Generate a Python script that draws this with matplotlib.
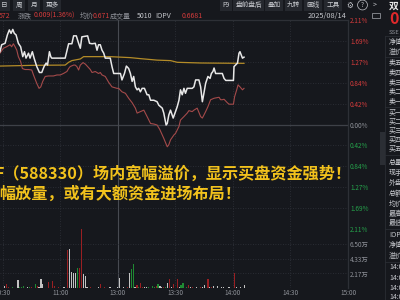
import matplotlib
matplotlib.use('Agg')
import matplotlib.pyplot as plt
from matplotlib.patches import Rectangle

plt.rcParams['font.family'] = ['Noto Sans CJK SC', 'DejaVu Sans']

# ---------------- data (minutes since 9:30 trading clock, % change) ----------------
white_t = [58.6, 59.5, 61.3, 62.5, 63.5, 64.4, 65.3, 66.1, 67.0, 68.2,
           69.4, 70.5, 71.4, 72.2, 73.5, 74.3, 75.5, 76.4, 77.8, 79.2,
           80.4, 81.6, 82.7, 83.4, 84.4, 85.1, 85.6, 92.6, 94.4, 96.1,
           97.0, 98.4, 99.6, 100.5, 101.3, 104.3, 105.3, 106.6, 108.3, 109.2,
           110.0, 110.9, 111.8, 112.7, 113.5, 116.1, 117.0, 117.9, 121.4, 122.2,
           123.5, 124.5, 125.7, 126.6, 127.5, 128.3, 129.2, 130.1, 130.9, 131.8,
           132.7, 133.9, 135.3, 136.2, 137.1, 138.8, 140.5, 141.4, 142.3, 143.2,
           144.0, 145.2, 145.8, 146.6, 147.5, 148.9, 150.1, 151.0, 151.9, 152.7,
           153.6, 154.5, 155.3, 156.2, 158.8, 159.7, 160.6, 162.3, 163.2, 164.1,
           164.9, 165.8, 167.0, 168.1, 168.8, 169.6, 170.2, 171.0, 174.5, 175.4,
           176.3, 180.3, 180.6, 182.4, 183.2, 183.7, 185.0, 185.8]
white_p = [1.47, 1.61, 1.64, 1.81, 1.91, 1.84, 1.92, 1.84, 1.81, 1.64,
           1.57, 1.37, 1.47, 1.34, 1.44, 1.34, 1.47, 1.34, 1.17, 1.05,
           1.05, 1.17, 1.24, 1.20, 1.47, 1.37, 1.34, 1.34, 1.63, 1.63,
           1.79, 1.79, 1.64, 1.54, 1.77, 1.79, 1.64, 1.63, 1.64, 1.50,
           1.61, 1.61, 1.50, 1.44, 1.34, 1.34, 1.17, 1.03, 1.03, 0.90,
           1.03, 1.18, 1.13, 1.03, 0.87, 0.97, 0.76, 0.70, 0.73, 0.66,
           0.73, 0.73, 0.60, 0.60, 0.49, 0.49, 0.46, 0.39, 0.36, 0.33,
           0.23, -0.01, 0.02, 0.19, 0.29, 0.13, 0.26, 0.36, 0.49, 0.70,
           0.60, 0.73, 0.63, 0.73, 0.73, 0.76, 0.90, 0.90, 0.76, 0.46,
           0.63, 0.83, 0.97, 0.93, 1.03, 1.07, 1.14, 1.03, 1.03, 0.93,
           0.89, 0.89, 1.17, 1.24, 1.44, 1.47, 1.34, 1.36]

avg_t = [58.6, 76.1, 92.6, 94.4, 96.1, 100.5, 102.2, 116.1, 126.6, 131.8,
         140.5, 147.5, 151.0, 163.2, 185.8]
avg_p = [1.18, 1.195, 1.20, 1.256, 1.29, 1.323, 1.37, 1.37, 1.35, 1.33,
         1.30, 1.29, 1.256, 1.242, 1.235]

red_t = [58.6, 60.4, 62.1, 63.9, 64.7, 65.6, 66.5, 67.4, 68.2, 69.4,
         70.3, 71.7, 73.5, 75.2, 76.1, 77.8, 79.0, 79.9, 80.9, 82.2,
         83.9, 86.5, 88.3, 90.0, 91.7, 93.5, 94.4, 95.2, 97.0, 97.8,
         98.7, 99.6, 100.5, 101.9, 103.1, 104.3, 105.7, 106.6, 108.3, 110.0,
         110.9, 111.8, 113.5, 115.3, 117.0, 119.6, 120.5, 122.2, 124.0, 125.7,
         127.5, 129.2, 130.1, 131.8, 133.6, 135.3, 137.1, 138.8, 140.5, 141.9,
         144.0, 145.8, 146.6, 147.5, 149.3, 150.1, 151.9, 152.7, 154.5, 156.2,
         157.1, 158.8, 159.7, 161.4, 163.2, 164.1, 164.9, 165.8, 167.0, 168.4,
         170.2, 172.8, 173.6, 174.5, 175.4, 177.1, 178.0, 180.3, 180.9, 182.0,
         182.7, 183.7, 185.0, 185.8]
red_p = [1.44, 1.54, 1.57, 1.61, 1.57, 1.63, 1.57, 1.50, 1.37, 1.27,
         1.13, 1.11, 1.11, 1.10, 1.00, 0.83, 0.73, 0.76, 0.87, 0.97,
         0.98, 0.98, 1.00, 1.00, 1.03, 1.07, 1.13, 1.17, 1.20, 1.20,
         1.17, 1.10, 1.20, 1.25, 1.22, 1.17, 1.11, 1.05, 1.07, 1.03,
         1.05, 1.00, 0.97, 0.85, 0.76, 0.73, 0.73, 0.66, 0.63, 0.53,
         0.44, 0.33, 0.23, 0.26, 0.29, 0.16, 0.02, 0.01, -0.01, -0.10,
         -0.28, -0.45, -0.41, -0.31, -0.21, -0.18, -0.04, 0.09, 0.16, 0.23,
         0.28, 0.26, 0.29, 0.33, 0.16, 0.13, 0.19, 0.26, 0.36, 0.50,
         0.53, 0.55, 0.50, 0.50, 0.51, 0.44, 0.41, 0.41, 0.56, 0.70,
         0.80, 0.76, 0.70, 0.73]

# volume (万) per minute, direction u=up(red) d=down(green) f=flat(grey)
vol_t = [61, 62, 63, 64, 65, 66, 68, 69, 70, 71,
         72, 73, 74, 75, 76, 77, 78, 79, 80, 81,
         82, 83, 84, 85, 86, 87, 88, 89, 90, 91,
         92, 93, 94, 95, 96, 97, 98, 99, 100, 101,
         102, 103, 104, 105, 106, 107, 108, 109, 110, 111,
         112, 113, 114, 115, 116, 117, 118, 119, 120, 121,
         122, 123, 124, 125, 126, 127, 128, 129, 130, 131,
         132, 133, 134, 135, 136, 137, 138, 139, 140, 141,
         142, 143, 144, 145, 146, 147, 148, 149, 150, 151,
         152, 153, 154, 155, 156, 157, 158, 159, 160, 161,
         162, 163, 164, 165, 166, 167, 168, 169, 170, 171,
         172, 173, 174, 175, 176, 177, 178, 179, 180, 181,
         182, 183, 184, 185, 186]
vol_v = [0.34, 0.58, 0.12, 0.10, 0.12, 0.10, 1.21, 0.24, 0.12, 0.34,
         0.10, 0.24, 0.24, 0.12, 0.10, 0.58, 0.34, 0.12, 1.30, 0.58,
         0.10, 0.10, 0.96, 0.10, 1.06, 0.34, 0.10, 0.12, 0.10, 0.10,
         0.12, 0.10, 5.55, 5.79, 2.41, 2.27, 2.17, 3.04, 2.90, 9.00,
         2.03, 1.78, 0.12, 0.10, 0.12, 0.10, 0.10, 0.10, 0.12, 0.58,
         0.10, 0.24, 0.10, 0.10, 0.12, 0.10, 0.10, 0.10, 0.12, 1.45,
         0.10, 0.12, 0.10, 0.15, 2.27, 2.89, 3.62, 0.12, 0.48, 0.15,
         0.72, 0.15, 0.12, 0.24, 0.15, 0.10, 0.34, 0.15, 0.34, 0.58,
         0.34, 0.12, 0.15, 0.12, 0.82, 1.35, 0.12, 0.58, 0.10, 1.30,
         0.12, 0.48, 0.82, 0.10, 0.15, 0.48, 0.12, 0.15, 0.10, 0.24,
         0.10, 0.15, 0.12, 0.48, 0.10, 1.30, 0.12, 0.15, 0.34, 0.10,
         0.34, 0.10, 0.12, 0.24, 0.10, 0.10, 0.12, 0.10, 0.10, 2.27,
         0.12, 0.10, 0.12, 0.10, 0.48]
vol_d = ['f', 'u', 'u', 'f', 'd', 'f', 'f', 'd', 'd', 'd',
         'f', 'f', 'd', 'u', 'f', 'd', 'u', 'f', 'f', 'f',
         'd', 'f', 'u', 'f', 'u', 'u', 'f', 'u', 'f', 'f',
         'f', 'f', 'u', 'f', 'f', 'f', 'f', 'd', 'u', 'u',
         'f', 'f', 'f', 'f', 'u', 'f', 'f', 'f', 'f', 'u',
         'f', 'u', 'f', 'f', 'f', 'f', 'f', 'f', 'f', 'f',
         'f', 'f', 'f', 'u', 'f', 'd', 'd', 'f', 'u', 'd',
         'u', 'u', 'f', 'f', 'd', 'f', 'd', 'd', 'u', 'd',
         'f', 'f', 'u', 'd', 'f', 'u', 'f', 'u', 'f', 'u',
         'f', 'd', 'd', 'f', 'd', 'u', 'f', 'u', 'f', 'f',
         'f', 'u', 'f', 'f', 'f', 'u', 'f', 'u', 'f', 'f',
         'f', 'f', 'f', 'f', 'f', 'f', 'f', 'f', 'f', 'u',
         'f', 'f', 'f', 'f', 'f']

pct_ticks = [2.11, 1.69, 1.27, 0.84, 0.42, 0.00, -0.42, -0.84, -1.27, -1.69, -2.11]
vol_ticks = [2.17, 4.33, 6.50]
time_ticks = [60, 90, 120, 150, 180, 210, 240]
time_labels = ['10:30', '11:00', '13:00', '13:30', '14:00', '14:30', '15:00']
headline = ['F（588330）场内宽幅溢价，显示买盘资金强势！',
            '幅放量，或有大额资金进场布局！']
top_tabs = ['日', '周', '月', '更多']
tool_tabs = ['F9', '盘前盘后', '叠加', '九转', '画线', '工具']
side_rows = ['净值', '溢价', '卖五', '卖四', '卖三', '卖二', '卖一',
             '买一', '买二', '买三', '买四', '买五',
             '总量', '现手', '外盘', '总额', '均价', '最高', '最低',
             'IOPV', '净值', '溢价', '14:0', '14:0', '14:0', '14:0']

# ---------------- styling ----------------
W, H = 400, 300
BG = '#16181d'
RED = '#d63c3c'
GREEN = '#25a24b'
GREY = '#8e9198'
LIGHT = '#c6c8cd'
GOLD_TXT = '#f2c21c'
BTN = '#25282e'

fig = plt.figure(figsize=(4, 3), dpi=100, facecolor=BG)


def fx(x):
    return x / W


def fy(y):
    return 1 - y / H


XL, XR = 58.64, 240.0
ax = fig.add_axes([0, fy(229), fx(348), (229 - 20) / H], facecolor=BG)
axv = fig.add_axes([0, fy(288.3), fx(348), (288.3 - 229) / H], facecolor=BG)
for a in (ax, axv):
    a.set_xlim(XL, XR)
    for s in a.spines.values():
        s.set_visible(False)
ax.set_ylim(-2.11, 2.11)
axv.set_ylim(0, 8.67)

DOT = dict(color='#31343b', lw=0.6, linestyle=(0, (1, 2)))
for lv in pct_ticks:
    if lv == 0:
        ax.axhline(0, color='#3e4148', lw=0.9)
    elif lv == 2.11:
        ax.axhline(lv, color='#2d3036', lw=0.9, clip_on=False)
    else:
        ax.axhline(lv, clip_on=False, **DOT)
for a in (ax, axv):
    for t in time_ticks:
        if t == 120:
            a.axvline(t, color='#474a51', lw=0.8)
        elif t == 240:
            a.axvline(t, color='#2d3036', lw=0.9, clip_on=False)
        else:
            a.axvline(t, **DOT)
for lv in vol_ticks:
    axv.axhline(lv, **DOT)
axv.axhline(0, color='#2a2d33', lw=0.6)

# price lines
ax.plot(avg_t, avg_p, color='#b48c28', lw=0.9, zorder=3)
ax.plot(red_t, red_p, color='#a44a4a', lw=0.8, zorder=3)
ax.plot(white_t, white_p, color='#e8e8e8', lw=1.1, zorder=4)

# volume bars
cmap = {'u': '#9a1f22', 'd': '#1f8a33', 'f': '#c4c4c4'}
axv.bar(vol_t, vol_v, width=0.6, color=[cmap[d] for d in vol_d], linewidth=0, zorder=3)

# axis labels
ax.yaxis.tick_right()
ax.set_yticks(pct_ticks)
ax.set_yticklabels([f'{abs(v):.2f}%' for v in pct_ticks])
ax.tick_params(axis='y', length=0, pad=1.5, labelsize=4.6)
for v, lab in zip(pct_ticks, ax.get_yticklabels()):
    lab.set_color(RED if v > 0 else (GREEN if v < 0 else GREY))
ax.set_xticks([])

axv.yaxis.tick_right()
axv.set_yticks(vol_ticks)
axv.set_yticklabels([f'{v:.2f}万' for v in vol_ticks])
axv.set_xticks(time_ticks)
axv.set_xticklabels(time_labels)
axv.tick_params(length=0, labelsize=4.6, labelcolor=GREY)
axv.tick_params(axis='y', pad=1.5)
axv.tick_params(axis='x', pad=0.5)

# headline overlay
fig.text(fx(-5), fy(174), headline[0], color=GOLD_TXT, fontsize=11.6,
         fontweight='bold', va='center', ha='left')
fig.text(fx(-1), fy(194), headline[1], color=GOLD_TXT, fontsize=11.6,
         fontweight='bold', va='center', ha='left')

# top toolbar
for txt, x in zip(top_tabs, [4, 19, 34, 52]):
    fig.text(fx(x), fy(5), txt, color=LIGHT, fontsize=4.8, ha='center', va='center',
             bbox=dict(boxstyle='square,pad=0.35', fc=BTN, ec='none'))
for txt, x in zip(tool_tabs, [226, 248.5, 274, 293.5, 313, 333]):
    fig.text(fx(x), fy(5), txt, color=LIGHT, fontsize=4.8, ha='center', va='center',
             bbox=dict(boxstyle='square,pad=0.35', fc=BTN, ec='none'))
fig.text(fx(349.5), fy(5), '⚙', color=LIGHT, fontsize=5.5, ha='center', va='center',
         family='DejaVu Sans')
fig.text(fx(362.5), fy(5), '?', color=LIGHT, fontsize=4.5, ha='center', va='center',
         bbox=dict(boxstyle='circle,pad=0.15', fc='none', ec=LIGHT, lw=0.5))
fig.text(fx(374.5), fy(5), '>', color=LIGHT, fontsize=5, ha='center', va='center')

# quote row
row = [('572', -1, RED), ('涨跌', 18, GREY), ('0.009(1.36%)', 34, RED),
       ('均价', 80, GREY), ('0.671', 93, RED), ('成交量', 110, GREY),
       ('5010', 137, LIGHT), ('IOPV', 155, LIGHT), ('0.6681', 182, RED)]
for txt, x, c in row:
    fig.text(fx(x), fy(16), txt, color=c, fontsize=5, ha='left', va='center')
fig.text(fx(308), fy(16), '2025/08/14', color=LIGHT, fontsize=5.3, ha='left', va='center')
fig.patches.append(Rectangle((fx(372), fy(18)), fx(8), 5 / H, transform=fig.transFigure,
                             fill=False, ec=GREY, lw=0.6))

# right sidebar
fig.add_artist(plt.Line2D([fx(385), fx(385)], [fy(36), fy(300)], color='#2a2d33', lw=0.6))
fig.patches.append(Rectangle((fx(380), fy(165)), fx(4.5), 33 / H, transform=fig.transFigure,
                             fc='#2b2e34', ec='none'))
fig.text(fx(389), fy(6), '双', color='#e8e8e8', fontsize=7, fontweight='bold',
         ha='left', va='center')
fig.text(fx(389), fy(19), '0', color='#e0292b', fontsize=11.5, fontweight='bold',
         ha='left', va='center')
fig.text(fx(389), fy(32), 'SSE', color=GREY, fontsize=4.3, ha='left', va='center')
side_y = [42, 52, 62, 72, 82, 91, 101, 112, 121, 130, 139, 148,
          163, 173, 183, 194, 204, 214, 223, 235, 245, 256, 267, 278, 288, 297]
for txt, y in zip(side_rows, side_y):
    fig.text(fx(389), fy(y), txt, color=LIGHT, fontsize=5, ha='left', va='center')
for y in [36, 57, 107, 155, 229, 262]:
    fig.add_artist(plt.Line2D([fx(385), fx(400)], [fy(y), fy(y)], color='#2a2d33', lw=0.6))

fig.savefig('out.png', dpi=100, facecolor=BG)
